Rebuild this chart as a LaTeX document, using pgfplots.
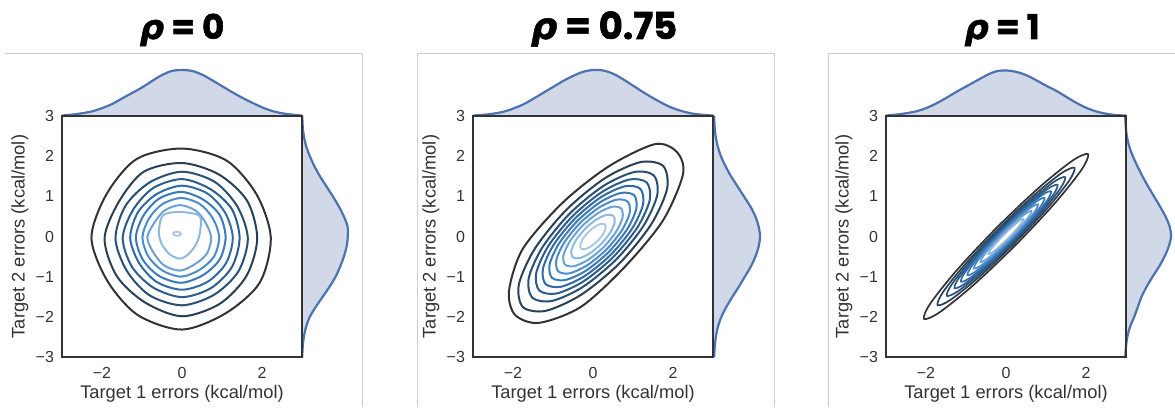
\documentclass[border=0pt]{standalone}
\usepackage{fontspec}
\setmainfont{Liberation Sans}
\newfontfamily\titlefont{Poppins}[BoldFeatures={FakeBold=1.6}]
\newfontfamily\greekfont{DejaVu Sans}[BoldItalicFeatures={FakeBold=1.2}]
\usepackage{pgfplots}
\pgfplotsset{compat=1.18}
\definecolor{cA}{rgb}{0.20,0.20,0.21}
\definecolor{cB}{rgb}{0.17,0.25,0.33}
\definecolor{cC}{rgb}{0.16,0.31,0.45}
\definecolor{cD}{rgb}{0.17,0.36,0.55}
\definecolor{cE}{rgb}{0.19,0.42,0.65}
\definecolor{cF}{rgb}{0.23,0.48,0.73}
\definecolor{cG}{rgb}{0.30,0.55,0.79}
\definecolor{cH}{rgb}{0.42,0.63,0.83}
\definecolor{cI}{rgb}{0.56,0.72,0.87}
\definecolor{cJ}{rgb}{0.67,0.79,0.91}
\definecolor{mline}{HTML}{4C72B0}
\definecolor{mfill}{HTML}{D1D9E9}
\definecolor{framec}{HTML}{CCCCCC}
\definecolor{txt}{HTML}{333333}
\pgfplotsset{
 jp/.style={scale only axis, width=240pt, height=241pt, anchor=south west,
  xmin=-3,xmax=3,ymin=-3,ymax=3,
  xtick={-2,0,2}, xticklabels={−2,0,2},
  ytick={-3,-2,-1,0,1,2,3}, yticklabels={−3,−2,−1,0,1,2,3},
  major tick length=0pt, tick style={draw=none},
  axis line style={draw=txt, line width=1.8pt},
  tick label style={font=\fontsize{16}{18}\selectfont, text=txt},
  xticklabel style={anchor=north, yshift=-6.5pt},
  yticklabel style={anchor=east, xshift=-4.5pt},
  label style={font=\fontsize{18.3}{20}\selectfont, text=txt},
  xlabel={Target 1 errors (kcal/mol)},
  ylabel={Target 2 errors (kcal/mol)},
  xlabel style={at={(axis description cs:0.5,-0.174)}, anchor=base},
  ylabel style={at={(axis description cs:-0.175,0.5)}, anchor=center},
  every axis plot/.append style={line width=2pt, smooth cycle},
 },
 mtop/.style={scale only axis, width=240pt, height=46pt, anchor=south west,
  xmin=-3,xmax=3,ymin=0,ymax=1, hide axis, clip=false},
 mright/.style={scale only axis, width=46pt, height=241pt, anchor=south west,
  xmin=0,xmax=1,ymin=-3,ymax=3, hide axis, clip=false},
}
\begin{document}
\begin{tikzpicture}
\path[use as bounding box] (0,0) rectangle (1175pt,407pt);
\draw[framec, line width=1pt] (5pt,353pt) -- (362pt,353pt) -- (362pt,0pt);
\draw[framec, line width=1pt] (417pt,0pt) -- (417pt,353pt) -- (774pt,353pt) -- (774pt,0pt);
\draw[framec, line width=1pt] (828pt,0pt) -- (828pt,353pt) -- (1175pt,353pt);
\node[anchor=base, font=\fontsize{34}{34}\selectfont] at (182pt,368pt) {{\greekfont\bfseries\itshape ρ}\titlefont\bfseries{} = 0};
\node[anchor=base, font=\fontsize{37}{37}\selectfont] at (604pt,368pt) {{\greekfont\bfseries\itshape ρ}\titlefont\bfseries{} = 0.75};
\node[anchor=base, font=\fontsize{34}{34}\selectfont] at (1002pt,368pt) {{\greekfont\bfseries\itshape ρ}\titlefont\bfseries{} = 1};

% ---------------- Panel 1 ----------------
\begin{axis}[mtop, at={(62pt,291pt)}]
\addplot[draw=none, fill=mfill] coordinates {(-3,0) (-3,0.01) (-2.75,0.03) (-2.5,0.06) (-2.25,0.1) (-2,0.17) (-1.75,0.26) (-1.5,0.38) (-1.25,0.5) (-1,0.62) (-0.75,0.76) (-0.5,0.89) (-0.25,0.98) (0,1.0) (0.25,0.98) (0.5,0.9) (0.75,0.78) (1,0.65) (1.25,0.52) (1.5,0.4) (1.75,0.29) (2,0.19) (2.25,0.11) (2.5,0.06) (2.75,0.03) (3,0.01) (3,0)};
\addplot[mline, line width=2.2pt, smooth] coordinates {(-3,0.01) (-2.75,0.03) (-2.5,0.06) (-2.25,0.1) (-2,0.17) (-1.75,0.26) (-1.5,0.38) (-1.25,0.5) (-1,0.62) (-0.75,0.76) (-0.5,0.89) (-0.25,0.98) (0,1.0) (0.25,0.98) (0.5,0.9) (0.75,0.78) (1,0.65) (1.25,0.52) (1.5,0.4) (1.75,0.29) (2,0.19) (2.25,0.11) (2.5,0.06) (2.75,0.03) (3,0.01)};
\end{axis}
\begin{axis}[mright, at={(302pt,50pt)}]
\addplot[draw=none, fill=mfill] coordinates {(0,-3) (0.005,-3) (0.015,-2.75) (0.04,-2.5) (0.09,-2.25) (0.17,-2) (0.3,-1.75) (0.45,-1.5) (0.6,-1.25) (0.73,-1) (0.83,-0.75) (0.91,-0.5) (0.97,-0.25) (0.995,0) (0.99,0.25) (0.91,0.5) (0.8,0.75) (0.67,1) (0.53,1.25) (0.39,1.5) (0.27,1.75) (0.17,2) (0.09,2.25) (0.04,2.5) (0.015,2.75) (0.005,3) (0,3)};
\addplot[mline, line width=2.2pt, smooth] coordinates {(0.005,-3) (0.015,-2.75) (0.04,-2.5) (0.09,-2.25) (0.17,-2) (0.3,-1.75) (0.45,-1.5) (0.6,-1.25) (0.73,-1) (0.83,-0.75) (0.91,-0.5) (0.97,-0.25) (0.995,0) (0.99,0.25) (0.91,0.5) (0.8,0.75) (0.67,1) (0.53,1.25) (0.39,1.5) (0.27,1.75) (0.17,2) (0.09,2.25) (0.04,2.5) (0.015,2.75) (0.005,3)};
\end{axis}
\begin{axis}[jp, at={(62pt,50pt)}]
\addplot[cA] coordinates {(2.22,-0.03) (1.865,1.047) (1.11,1.893) (0,2.19) (-1.132,1.931) (-1.884,1.058) (-2.264,-0.03) (-1.865,-1.107) (-1.11,-1.953) (0,-2.317) (1.088,-1.914) (1.942,-1.151)};
\addplot[cB] coordinates {(1.88,-0.05) (1.628,0.89) (0.921,1.545) (0,1.83) (-0.959,1.611) (-1.58,0.862) (-1.936,-0.05) (-1.628,-0.99) (-0.921,-1.645) (0,-1.986) (0.94,-1.678) (1.612,-0.981)};
\addplot[cC] coordinates {(1.646,-0.05) (1.383,0.749) (0.815,1.362) (0,1.613) (-0.807,1.348) (-1.412,0.765) (-1.663,-0.05) (-1.383,-0.849) (-0.815,-1.462) (0,-1.713) (0.807,-1.448) (1.412,-0.865)};
\addplot[cD] coordinates {(1.44,-0.04) (1.247,0.68) (0.706,1.182) (0,1.429) (-0.72,1.207) (-1.222,0.666) (-1.483,-0.04) (-1.247,-0.76) (-0.713,-1.275) (0,-1.509) (0.72,-1.287) (1.247,-0.76)};
\addplot[cE] coordinates {(1.27,-0.03) (1.078,0.592) (0.635,1.07) (0,1.265) (-0.629,1.059) (-1.1,0.605) (-1.295,-0.03) (-1.078,-0.652) (-0.635,-1.13) (0,-1.325) (0.635,-1.13) (1.1,-0.665)};
\addplot[cF] coordinates {(1.09,-0.02) (0.941,0.535) (0.524,0.922) (-0.02,1.112) (-0.575,0.941) (-0.962,0.524) (-1.152,-0.02) (-0.981,-0.575) (-0.575,-0.981) (-0.02,-1.152) (0.524,-0.962) (0.941,-0.575)};
\addplot[cG] coordinates {(0.93,-0.02) (0.778,0.441) (0.455,0.803) (-0.02,0.959) (-0.495,0.803) (-0.826,0.446) (-0.989,-0.02) (-0.843,-0.495) (-0.495,-0.843) (-0.02,-0.999) (0.446,-0.826) (0.803,-0.495)};
\addplot[cH] coordinates {(0.73,-0.03) (0.592,0.341) (0.34,0.645) (-0.05,0.781) (-0.44,0.645) (-0.692,0.341) (-0.869,-0.03) (-0.706,-0.409) (-0.448,-0.719) (-0.05,-0.849) (0.329,-0.686) (0.625,-0.42)};
\addplot[cI] coordinates {(0.45,0.1) (0.45,0.5) (0.1,0.6) (-0.25,0.6) (-0.5,0.5) (-0.58,0.1) (-0.5,-0.2) (-0.3,-0.45) (-0.05,-0.55) (0.15,-0.45) (0.35,-0.2)};
\addplot[cJ] coordinates {(-0.03,0.07) (-0.1,0.12) (-0.18,0.11) (-0.22,0.06) (-0.15,0.02) (-0.07,0.02)};
\end{axis}

% ---------------- Panel 2 ----------------
\begin{axis}[mtop, at={(473pt,291pt)}]
\addplot[draw=none, fill=mfill] coordinates {(-3,0) (-3,0.01) (-2.75,0.025) (-2.5,0.05) (-2.25,0.09) (-2,0.16) (-1.75,0.25) (-1.5,0.37) (-1.25,0.5) (-1,0.63) (-0.75,0.76) (-0.5,0.87) (-0.25,0.96) (0,1.0) (0.25,0.99) (0.5,0.92) (0.75,0.8) (1,0.66) (1.25,0.52) (1.5,0.39) (1.75,0.27) (2,0.17) (2.25,0.1) (2.5,0.05) (2.75,0.025) (3,0.01) (3,0)};
\addplot[mline, line width=2.2pt, smooth] coordinates {(-3,0.01) (-2.75,0.025) (-2.5,0.05) (-2.25,0.09) (-2,0.16) (-1.75,0.25) (-1.5,0.37) (-1.25,0.5) (-1,0.63) (-0.75,0.76) (-0.5,0.87) (-0.25,0.96) (0,1.0) (0.25,0.99) (0.5,0.92) (0.75,0.8) (1,0.66) (1.25,0.52) (1.5,0.39) (1.75,0.27) (2,0.17) (2.25,0.1) (2.5,0.05) (2.75,0.025) (3,0.01)};
\end{axis}
\begin{axis}[mright, at={(714pt,50pt)}]
\addplot[draw=none, fill=mfill] coordinates {(0,-3) (0.005,-3) (0.015,-2.75) (0.04,-2.5) (0.085,-2.25) (0.16,-2) (0.27,-1.75) (0.4,-1.5) (0.54,-1.25) (0.67,-1) (0.8,-0.75) (0.9,-0.5) (0.97,-0.25) (1.0,0) (0.97,0.25) (0.9,0.5) (0.79,0.75) (0.65,1) (0.51,1.25) (0.37,1.5) (0.25,1.75) (0.15,2) (0.08,2.25) (0.035,2.5) (0.012,2.75) (0.004,3) (0,3)};
\addplot[mline, line width=2.2pt, smooth] coordinates {(0.005,-3) (0.015,-2.75) (0.04,-2.5) (0.085,-2.25) (0.16,-2) (0.27,-1.75) (0.4,-1.5) (0.54,-1.25) (0.67,-1) (0.8,-0.75) (0.9,-0.5) (0.97,-0.25) (1.0,0) (0.97,0.25) (0.9,0.5) (0.79,0.75) (0.65,1) (0.51,1.25) (0.37,1.5) (0.25,1.75) (0.15,2) (0.08,2.25) (0.035,2.5) (0.012,2.75) (0.004,3)};
\end{axis}
\begin{axis}[jp, at={(473pt,50pt)}]
\addplot[cA] coordinates {(2.1,2.1) (1.55,2.3) (0.4,1.75) (-0.75,0.85) (-1.75,-0.3) (-2.1,-1.35) (-1.95,-1.95) (-1.35,-2.15) (-0.3,-1.75) (0.8,-0.75) (1.75,0.4) (2.25,1.55)};
\addplot[cB] coordinates {(1.755,1.755) (1.188,1.852) (0.301,1.453) (-0.665,0.665) (-1.453,-0.301) (-1.852,-1.188) (-1.755,-1.755) (-1.188,-1.852) (-0.301,-1.453) (0.665,-0.665) (1.453,0.301) (1.852,1.188)};
\addplot[cC] coordinates {(1.521,1.521) (1.029,1.605) (0.262,1.26) (-0.576,0.576) (-1.26,-0.262) (-1.605,-1.029) (-1.521,-1.521) (-1.029,-1.605) (-0.262,-1.26) (0.576,-0.576) (1.26,0.262) (1.605,1.029)};
\addplot[cD] coordinates {(1.344,1.344) (0.909,1.419) (0.231,1.113) (-0.509,0.509) (-1.113,-0.231) (-1.419,-0.909) (-1.344,-1.344) (-0.909,-1.419) (-0.231,-1.113) (0.509,-0.509) (1.113,0.231) (1.419,0.909)};
\addplot[cE] coordinates {(1.185,1.185) (0.801,1.251) (0.204,0.982) (-0.449,0.449) (-0.982,-0.204) (-1.251,-0.801) (-1.185,-1.185) (-0.801,-1.251) (-0.204,-0.982) (0.449,-0.449) (0.982,0.204) (1.251,0.801)};
\addplot[cF] coordinates {(1.027,1.027) (0.694,1.084) (0.177,0.851) (-0.389,0.389) (-0.851,-0.177) (-1.084,-0.694) (-1.027,-1.027) (-0.694,-1.084) (-0.177,-0.851) (0.389,-0.389) (0.851,0.177) (1.084,0.694)};
\addplot[cG] coordinates {(0.868,0.868) (0.587,0.917) (0.149,0.719) (-0.329,0.329) (-0.719,-0.149) (-0.917,-0.587) (-0.868,-0.868) (-0.587,-0.917) (-0.149,-0.719) (0.329,-0.329) (0.719,0.149) (0.917,0.587)};
\addplot[cH] coordinates {(0.7,0.7) (0.473,0.739) (0.121,0.579) (-0.265,0.265) (-0.579,-0.121) (-0.739,-0.473) (-0.7,-0.7) (-0.473,-0.739) (-0.121,-0.579) (0.265,-0.265) (0.579,0.121) (0.739,0.473)};
\addplot[cI] coordinates {(0.513,0.513) (0.347,0.541) (0.089,0.425) (-0.194,0.194) (-0.425,-0.089) (-0.541,-0.347) (-0.513,-0.513) (-0.347,-0.541) (-0.089,-0.425) (0.194,-0.194) (0.425,0.089) (0.541,0.347)};
\addplot[cJ] coordinates {(0.299,0.299) (0.202,0.316) (0.052,0.248) (-0.113,0.113) (-0.248,-0.052) (-0.316,-0.202) (-0.299,-0.299) (-0.202,-0.316) (-0.052,-0.248) (0.113,-0.113) (0.248,0.052) (0.316,0.202)};
\end{axis}

% ---------------- Panel 3 ----------------
\begin{axis}[mtop, at={(886pt,291pt)}]
\addplot[draw=none, fill=mfill] coordinates {(-3,0) (-3,0.01) (-2.75,0.03) (-2.5,0.06) (-2.25,0.1) (-2,0.17) (-1.75,0.27) (-1.5,0.39) (-1.25,0.52) (-1,0.64) (-0.75,0.76) (-0.5,0.88) (-0.25,0.97) (0,0.99) (0.25,0.96) (0.5,0.89) (0.75,0.78) (1,0.66) (1.25,0.55) (1.5,0.42) (1.75,0.29) (2,0.18) (2.25,0.1) (2.5,0.05) (2.75,0.02) (3,0.01) (3,0)};
\addplot[mline, line width=2.2pt, smooth] coordinates {(-3,0.01) (-2.75,0.03) (-2.5,0.06) (-2.25,0.1) (-2,0.17) (-1.75,0.27) (-1.5,0.39) (-1.25,0.52) (-1,0.64) (-0.75,0.76) (-0.5,0.88) (-0.25,0.97) (0,0.99) (0.25,0.96) (0.5,0.89) (0.75,0.78) (1,0.66) (1.25,0.55) (1.5,0.42) (1.75,0.29) (2,0.18) (2.25,0.1) (2.5,0.05) (2.75,0.02) (3,0.01)};
\end{axis}
\begin{axis}[mright, at={(1125pt,50pt)}]
\addplot[draw=none, fill=mfill] coordinates {(0,-3) (0.005,-3) (0.02,-2.75) (0.05,-2.5) (0.11,-2.25) (0.2,-2) (0.28,-1.75) (0.36,-1.5) (0.47,-1.25) (0.6,-1) (0.74,-0.75) (0.86,-0.5) (0.95,-0.25) (1.0,0) (0.97,0.25) (0.88,0.5) (0.76,0.75) (0.63,1) (0.5,1.25) (0.38,1.5) (0.27,1.75) (0.17,2) (0.09,2.25) (0.04,2.5) (0.015,2.75) (0.005,3) (0,3)};
\addplot[mline, line width=2.2pt, smooth] coordinates {(0.005,-3) (0.02,-2.75) (0.05,-2.5) (0.11,-2.25) (0.2,-2) (0.28,-1.75) (0.36,-1.5) (0.47,-1.25) (0.6,-1) (0.74,-0.75) (0.86,-0.5) (0.95,-0.25) (1.0,0) (0.97,0.25) (0.88,0.5) (0.76,0.75) (0.63,1) (0.5,1.25) (0.38,1.5) (0.27,1.75) (0.17,2) (0.09,2.25) (0.04,2.5) (0.015,2.75) (0.005,3)};
\end{axis}
\begin{axis}[jp, at={(886pt,50pt)}, every axis plot/.append style={line width=1.7pt}]
\addplot[cA] coordinates {(2.051,2.051) (1.663,1.889) (0.829,1.221) (-0.226,0.226) (-1.221,-0.829) (-1.889,-1.663) (-2.051,-2.051) (-1.663,-1.889) (-0.829,-1.221) (0.226,-0.226) (1.221,0.829) (1.889,1.663)};
\addplot[cB] coordinates {(1.711,1.711) (1.387,1.577) (0.691,1.021) (-0.191,0.191) (-1.021,-0.691) (-1.577,-1.387) (-1.711,-1.711) (-1.387,-1.577) (-0.691,-1.021) (0.191,-0.191) (1.021,0.691) (1.577,1.387)};
\addplot[cC] coordinates {(1.478,1.478) (1.199,1.361) (0.598,0.88) (-0.163,0.163) (-0.88,-0.598) (-1.361,-1.199) (-1.478,-1.478) (-1.199,-1.361) (-0.598,-0.88) (0.163,-0.163) (0.88,0.598) (1.361,1.199)};
\addplot[cD] coordinates {(1.287,1.287) (1.044,1.186) (0.522,0.766) (-0.141,0.141) (-0.766,-0.522) (-1.186,-1.044) (-1.287,-1.287) (-1.044,-1.186) (-0.522,-0.766) (0.141,-0.141) (0.766,0.522) (1.186,1.044)};
\addplot[cE] coordinates {(1.124,1.124) (0.909,1.037) (0.452,0.672) (-0.127,0.127) (-0.672,-0.452) (-1.037,-0.909) (-1.124,-1.124) (-0.909,-1.037) (-0.452,-0.672) (0.127,-0.127) (0.672,0.452) (1.037,0.909)};
\addplot[cF] coordinates {(0.962,0.962) (0.78,0.886) (0.389,0.573) (-0.106,0.106) (-0.573,-0.389) (-0.886,-0.78) (-0.962,-0.962) (-0.78,-0.886) (-0.389,-0.573) (0.106,-0.106) (0.573,0.389) (0.886,0.78)};
\addplot[cG] coordinates {(0.799,0.799) (0.646,0.738) (0.32,0.48) (-0.092,0.092) (-0.48,-0.32) (-0.738,-0.646) (-0.799,-0.799) (-0.646,-0.738) (-0.32,-0.48) (0.092,-0.092) (0.48,0.32) (0.738,0.646)};
\addplot[cH] coordinates {(0.636,0.636) (0.516,0.586) (0.257,0.379) (-0.071,0.071) (-0.379,-0.257) (-0.586,-0.516) (-0.636,-0.636) (-0.516,-0.586) (-0.257,-0.379) (0.071,-0.071) (0.379,0.257) (0.586,0.516)};
\addplot[cI] coordinates {(0.438,0.438) (0.354,0.404) (0.177,0.261) (-0.049,0.049) (-0.261,-0.177) (-0.404,-0.354) (-0.438,-0.438) (-0.354,-0.404) (-0.177,-0.261) (0.049,-0.049) (0.261,0.177) (0.404,0.354)};
\end{axis}
\end{tikzpicture}
\end{document}
